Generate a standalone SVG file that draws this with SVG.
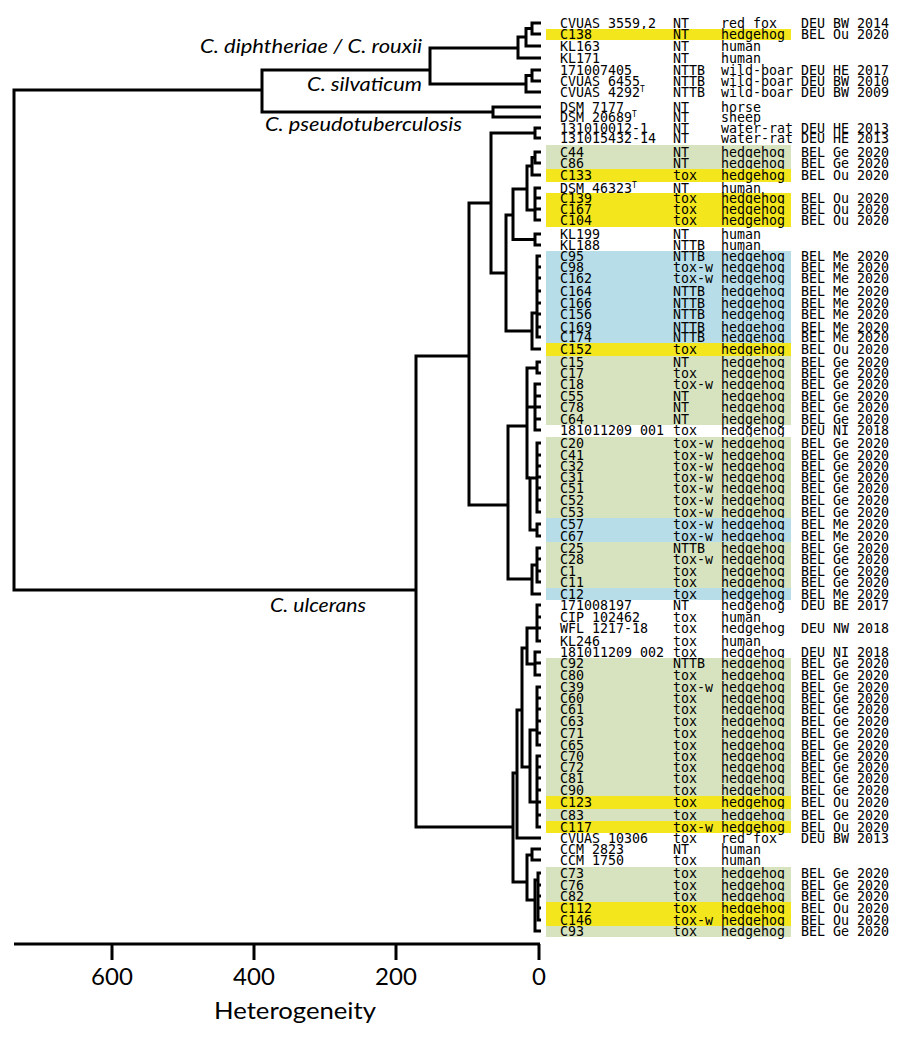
<svg xmlns="http://www.w3.org/2000/svg" width="900" height="1037" viewBox="0 0 900 1037">
<style>
.t{font-family:"DejaVu Sans Mono","Liberation Mono",monospace;font-size:13.3px;fill:#000}
.sup{font-size:8px}
.sp{font-family:Lato,"Open Sans",sans-serif;font-style:italic;font-size:19px;fill:#000}
.ax{font-family:Lato,"Open Sans",sans-serif;font-size:24px;fill:#000;text-anchor:middle}
.ln{fill:none;stroke:#000;stroke-width:3}
.bg{shape-rendering:crispEdges}
.y{fill:#f4e61c}.g{fill:#d7e3bf}.b{fill:#b7dde8}
</style>
<rect width="900" height="1037" fill="#fff"/>
<g id="rows">
<g id="r01"><text class="t" y="28"><tspan x="560">CVUAS 3559,2</tspan><tspan x="673">NT</tspan><tspan x="721">red fox</tspan><tspan x="801">DEU BW 2014</tspan></text></g>
<g id="r02"><rect class="bg y" x="546" y="28.5" width="245" height="11.5"/><text class="t" y="39"><tspan x="560">C138</tspan><tspan x="673">NT</tspan><tspan x="721">hedgehog</tspan><tspan x="801">BEL Ou 2020</tspan></text></g>
<g id="r03"><text class="t" y="51"><tspan x="560">KL163</tspan><tspan x="673">NT</tspan><tspan x="721">human</tspan></text></g>
<g id="r04"><text class="t" y="63"><tspan x="560">KL171</tspan><tspan x="673">NT</tspan><tspan x="721">human</tspan></text></g>
<g id="r05"><text class="t" y="75"><tspan x="560">171007405</tspan><tspan x="673">NTTB</tspan><tspan x="721">wild-boar</tspan><tspan x="801">DEU HE 2017</tspan></text></g>
<g id="r06"><text class="t" y="86"><tspan x="560">CVUAS 6455</tspan><tspan x="673">NTTB</tspan><tspan x="721">wild-boar</tspan><tspan x="801">DEU BW 2010</tspan></text></g>
<g id="r07"><text class="t" y="97"><tspan x="560">CVUAS 4292</tspan><tspan class="sup" dy="-5">T</tspan><tspan x="673" dy="5">NTTB</tspan><tspan x="721">wild-boar</tspan><tspan x="801">DEU BW 2009</tspan></text></g>
<g id="r08"><text class="t" y="112"><tspan x="560">DSM 7177</tspan><tspan x="673">NT</tspan><tspan x="721">horse</tspan></text></g>
<g id="r09"><text class="t" y="122"><tspan x="560">DSM 20689</tspan><tspan class="sup" dy="-5">T</tspan><tspan x="673" dy="5">NT</tspan><tspan x="721">sheep</tspan></text></g>
<g id="r10"><text class="t" y="133"><tspan x="560">131010012-1</tspan><tspan x="673">NT</tspan><tspan x="721">water-rat</tspan><tspan x="801">DEU HE 2013</tspan></text></g>
<g id="r11"><text class="t" y="143"><tspan x="560">131015432-14</tspan><tspan x="673">NT</tspan><tspan x="721">water-rat</tspan><tspan x="801">DEU HE 2013</tspan></text></g>
<g id="r12"><rect class="bg g" x="546" y="145" width="245" height="12.5"/><text class="t" y="157"><tspan x="560">C44</tspan><tspan x="673">NT</tspan><tspan x="721">hedgehog</tspan><tspan x="801">BEL Ge 2020</tspan></text></g>
<g id="r13"><rect class="bg g" x="546" y="157.5" width="245" height="11.5"/><text class="t" y="168"><tspan x="560">C86</tspan><tspan x="673">NT</tspan><tspan x="721">hedgehog</tspan><tspan x="801">BEL Ge 2020</tspan></text></g>
<g id="r14"><rect class="bg y" x="546" y="169" width="245" height="12.5"/><text class="t" y="180"><tspan x="560">C133</tspan><tspan x="673">tox</tspan><tspan x="721">hedgehog</tspan><tspan x="801">BEL Ou 2020</tspan></text></g>
<g id="r15"><text class="t" y="193"><tspan x="560">DSM 46323</tspan><tspan class="sup" dy="-5">T</tspan><tspan x="673" dy="5">NT</tspan><tspan x="721">human</tspan></text></g>
<g id="r16"><rect class="bg y" x="546" y="193" width="245" height="10.5"/><text class="t" y="203"><tspan x="560">C139</tspan><tspan x="673">tox</tspan><tspan x="721">hedgehog</tspan><tspan x="801">BEL Ou 2020</tspan></text></g>
<g id="r17"><rect class="bg y" x="546" y="203.5" width="245" height="11"/><text class="t" y="214"><tspan x="560">C167</tspan><tspan x="673">tox</tspan><tspan x="721">hedgehog</tspan><tspan x="801">BEL Ou 2020</tspan></text></g>
<g id="r18"><rect class="bg y" x="546" y="214.5" width="245" height="12.5"/><text class="t" y="225"><tspan x="560">C104</tspan><tspan x="673">tox</tspan><tspan x="721">hedgehog</tspan><tspan x="801">BEL Ou 2020</tspan></text></g>
<g id="r19"><text class="t" y="239"><tspan x="560">KL199</tspan><tspan x="673">NT</tspan><tspan x="721">human</tspan></text></g>
<g id="r20"><text class="t" y="250"><tspan x="560">KL188</tspan><tspan x="673">NTTB</tspan><tspan x="721">human</tspan></text></g>
<g id="r21"><rect class="bg b" x="546" y="250.5" width="245" height="11"/><text class="t" y="261"><tspan x="560">C95</tspan><tspan x="673">NTTB</tspan><tspan x="721">hedgehog</tspan><tspan x="801">BEL Me 2020</tspan></text></g>
<g id="r22"><rect class="bg b" x="546" y="261.5" width="245" height="11"/><text class="t" y="272"><tspan x="560">C98</tspan><tspan x="673">tox-w</tspan><tspan x="721">hedgehog</tspan><tspan x="801">BEL Me 2020</tspan></text></g>
<g id="r23"><rect class="bg b" x="546" y="272.5" width="245" height="12"/><text class="t" y="283"><tspan x="560">C162</tspan><tspan x="673">tox-w</tspan><tspan x="721">hedgehog</tspan><tspan x="801">BEL Me 2020</tspan></text></g>
<g id="r24"><rect class="bg b" x="546" y="284.5" width="245" height="12.5"/><text class="t" y="296"><tspan x="560">C164</tspan><tspan x="673">NTTB</tspan><tspan x="721">hedgehog</tspan><tspan x="801">BEL Me 2020</tspan></text></g>
<g id="r25"><rect class="bg b" x="546" y="297" width="245" height="11.5"/><text class="t" y="308"><tspan x="560">C166</tspan><tspan x="673">NTTB</tspan><tspan x="721">hedgehog</tspan><tspan x="801">BEL Me 2020</tspan></text></g>
<g id="r26"><rect class="bg b" x="546" y="308.5" width="245" height="12"/><text class="t" y="319"><tspan x="560">C156</tspan><tspan x="673">NTTB</tspan><tspan x="721">hedgehog</tspan><tspan x="801">BEL Me 2020</tspan></text></g>
<g id="r27"><rect class="bg b" x="546" y="320.5" width="245" height="11.5"/><text class="t" y="332"><tspan x="560">C169</tspan><tspan x="673">NTTB</tspan><tspan x="721">hedgehog</tspan><tspan x="801">BEL Me 2020</tspan></text></g>
<g id="r28"><rect class="bg b" x="546" y="332" width="245" height="11"/><text class="t" y="342"><tspan x="560">C174</tspan><tspan x="673">NTTB</tspan><tspan x="721">hedgehog</tspan><tspan x="801">BEL Me 2020</tspan></text></g>
<g id="r29"><rect class="bg y" x="546" y="343" width="245" height="12.5"/><text class="t" y="354"><tspan x="560">C152</tspan><tspan x="673">tox</tspan><tspan x="721">hedgehog</tspan><tspan x="801">BEL Ou 2020</tspan></text></g>
<g id="r30"><rect class="bg g" x="546" y="355.5" width="245" height="12"/><text class="t" y="367"><tspan x="560">C15</tspan><tspan x="673">NT</tspan><tspan x="721">hedgehog</tspan><tspan x="801">BEL Ge 2020</tspan></text></g>
<g id="r31"><rect class="bg g" x="546" y="367.5" width="245" height="11"/><text class="t" y="378"><tspan x="560">C17</tspan><tspan x="673">tox</tspan><tspan x="721">hedgehog</tspan><tspan x="801">BEL Ge 2020</tspan></text></g>
<g id="r32"><rect class="bg g" x="546" y="378.5" width="245" height="11.5"/><text class="t" y="389"><tspan x="560">C18</tspan><tspan x="673">tox-w</tspan><tspan x="721">hedgehog</tspan><tspan x="801">BEL Ge 2020</tspan></text></g>
<g id="r33"><rect class="bg g" x="546" y="390" width="245" height="11.5"/><text class="t" y="401"><tspan x="560">C55</tspan><tspan x="673">NT</tspan><tspan x="721">hedgehog</tspan><tspan x="801">BEL Ge 2020</tspan></text></g>
<g id="r34"><rect class="bg g" x="546" y="401.5" width="245" height="11.5"/><text class="t" y="412"><tspan x="560">C78</tspan><tspan x="673">NT</tspan><tspan x="721">hedgehog</tspan><tspan x="801">BEL Ge 2020</tspan></text></g>
<g id="r35"><rect class="bg g" x="546" y="413" width="245" height="11.5"/><text class="t" y="424"><tspan x="560">C64</tspan><tspan x="673">NT</tspan><tspan x="721">hedgehog</tspan><tspan x="801">BEL Ge 2020</tspan></text></g>
<g id="r36"><text class="t" y="435"><tspan x="560">181011209 001</tspan><tspan x="673">tox</tspan><tspan x="721">hedgehog</tspan><tspan x="801">DEU NI 2018</tspan></text></g>
<g id="r37"><rect class="bg g" x="546" y="436.5" width="245" height="12.5"/><text class="t" y="448"><tspan x="560">C20</tspan><tspan x="673">tox-w</tspan><tspan x="721">hedgehog</tspan><tspan x="801">BEL Ge 2020</tspan></text></g>
<g id="r38"><rect class="bg g" x="546" y="449" width="245" height="11.5"/><text class="t" y="460"><tspan x="560">C41</tspan><tspan x="673">tox-w</tspan><tspan x="721">hedgehog</tspan><tspan x="801">BEL Ge 2020</tspan></text></g>
<g id="r39"><rect class="bg g" x="546" y="460.5" width="245" height="11"/><text class="t" y="471"><tspan x="560">C32</tspan><tspan x="673">tox-w</tspan><tspan x="721">hedgehog</tspan><tspan x="801">BEL Ge 2020</tspan></text></g>
<g id="r40"><rect class="bg g" x="546" y="471.5" width="245" height="11"/><text class="t" y="482"><tspan x="560">C31</tspan><tspan x="673">tox-w</tspan><tspan x="721">hedgehog</tspan><tspan x="801">BEL Ge 2020</tspan></text></g>
<g id="r41"><rect class="bg g" x="546" y="482.5" width="245" height="11.5"/><text class="t" y="493"><tspan x="560">C51</tspan><tspan x="673">tox-w</tspan><tspan x="721">hedgehog</tspan><tspan x="801">BEL Ge 2020</tspan></text></g>
<g id="r42"><rect class="bg g" x="546" y="494" width="245" height="12"/><text class="t" y="505"><tspan x="560">C52</tspan><tspan x="673">tox-w</tspan><tspan x="721">hedgehog</tspan><tspan x="801">BEL Ge 2020</tspan></text></g>
<g id="r43"><rect class="bg g" x="546" y="506" width="245" height="12"/><text class="t" y="517"><tspan x="560">C53</tspan><tspan x="673">tox-w</tspan><tspan x="721">hedgehog</tspan><tspan x="801">BEL Ge 2020</tspan></text></g>
<g id="r44"><rect class="bg b" x="546" y="518" width="245" height="12"/><text class="t" y="529"><tspan x="560">C57</tspan><tspan x="673">tox-w</tspan><tspan x="721">hedgehog</tspan><tspan x="801">BEL Me 2020</tspan></text></g>
<g id="r45"><rect class="bg b" x="546" y="530" width="245" height="12"/><text class="t" y="541"><tspan x="560">C67</tspan><tspan x="673">tox-w</tspan><tspan x="721">hedgehog</tspan><tspan x="801">BEL Me 2020</tspan></text></g>
<g id="r46"><rect class="bg g" x="546" y="542" width="245" height="11.5"/><text class="t" y="553"><tspan x="560">C25</tspan><tspan x="673">NTTB</tspan><tspan x="721">hedgehog</tspan><tspan x="801">BEL Ge 2020</tspan></text></g>
<g id="r47"><rect class="bg g" x="546" y="553.5" width="245" height="11.5"/><text class="t" y="564"><tspan x="560">C28</tspan><tspan x="673">tox-w</tspan><tspan x="721">hedgehog</tspan><tspan x="801">BEL Ge 2020</tspan></text></g>
<g id="r48"><rect class="bg g" x="546" y="565" width="245" height="11.5"/><text class="t" y="576"><tspan x="560">C1</tspan><tspan x="673">tox</tspan><tspan x="721">hedgehog</tspan><tspan x="801">BEL Ge 2020</tspan></text></g>
<g id="r49"><rect class="bg g" x="546" y="576.5" width="245" height="11.5"/><text class="t" y="587"><tspan x="560">C11</tspan><tspan x="673">tox</tspan><tspan x="721">hedgehog</tspan><tspan x="801">BEL Ge 2020</tspan></text></g>
<g id="r50"><rect class="bg b" x="546" y="588" width="245" height="11.5"/><text class="t" y="599"><tspan x="560">C12</tspan><tspan x="673">tox</tspan><tspan x="721">hedgehog</tspan><tspan x="801">BEL Me 2020</tspan></text></g>
<g id="r51"><text class="t" y="610"><tspan x="560">171008197</tspan><tspan x="673">NT</tspan><tspan x="721">hedgehog</tspan><tspan x="801">DEU BE 2017</tspan></text></g>
<g id="r52"><text class="t" y="622"><tspan x="560">CIP 102462</tspan><tspan x="673">tox</tspan><tspan x="721">human</tspan></text></g>
<g id="r53"><text class="t" y="633"><tspan x="560">WFL 1217-18</tspan><tspan x="673">tox</tspan><tspan x="721">hedgehog</tspan><tspan x="801">DEU NW 2018</tspan></text></g>
<g id="r54"><text class="t" y="646"><tspan x="560">KL246</tspan><tspan x="673">tox</tspan><tspan x="721">human</tspan></text></g>
<g id="r55"><text class="t" y="657"><tspan x="560">181011209 002</tspan><tspan x="673">tox</tspan><tspan x="721">hedgehog</tspan><tspan x="801">DEU NI 2018</tspan></text></g>
<g id="r56"><rect class="bg g" x="546" y="657.5" width="245" height="11.5"/><text class="t" y="668"><tspan x="560">C92</tspan><tspan x="673">NTTB</tspan><tspan x="721">hedgehog</tspan><tspan x="801">BEL Ge 2020</tspan></text></g>
<g id="r57"><rect class="bg g" x="546" y="669" width="245" height="12"/><text class="t" y="680"><tspan x="560">C80</tspan><tspan x="673">tox</tspan><tspan x="721">hedgehog</tspan><tspan x="801">BEL Ge 2020</tspan></text></g>
<g id="r58"><rect class="bg g" x="546" y="681" width="245" height="11.5"/><text class="t" y="692"><tspan x="560">C39</tspan><tspan x="673">tox-w</tspan><tspan x="721">hedgehog</tspan><tspan x="801">BEL Ge 2020</tspan></text></g>
<g id="r59"><rect class="bg g" x="546" y="692.5" width="245" height="11"/><text class="t" y="703"><tspan x="560">C60</tspan><tspan x="673">tox</tspan><tspan x="721">hedgehog</tspan><tspan x="801">BEL Ge 2020</tspan></text></g>
<g id="r60"><rect class="bg g" x="546" y="703.5" width="245" height="11.5"/><text class="t" y="714"><tspan x="560">C61</tspan><tspan x="673">tox</tspan><tspan x="721">hedgehog</tspan><tspan x="801">BEL Ge 2020</tspan></text></g>
<g id="r61"><rect class="bg g" x="546" y="715" width="245" height="12"/><text class="t" y="726"><tspan x="560">C63</tspan><tspan x="673">tox</tspan><tspan x="721">hedgehog</tspan><tspan x="801">BEL Ge 2020</tspan></text></g>
<g id="r62"><rect class="bg g" x="546" y="727" width="245" height="12"/><text class="t" y="738"><tspan x="560">C71</tspan><tspan x="673">tox</tspan><tspan x="721">hedgehog</tspan><tspan x="801">BEL Ge 2020</tspan></text></g>
<g id="r63"><rect class="bg g" x="546" y="739" width="245" height="11.5"/><text class="t" y="750"><tspan x="560">C65</tspan><tspan x="673">tox</tspan><tspan x="721">hedgehog</tspan><tspan x="801">BEL Ge 2020</tspan></text></g>
<g id="r64"><rect class="bg g" x="546" y="750.5" width="245" height="11"/><text class="t" y="761"><tspan x="560">C70</tspan><tspan x="673">tox</tspan><tspan x="721">hedgehog</tspan><tspan x="801">BEL Ge 2020</tspan></text></g>
<g id="r65"><rect class="bg g" x="546" y="761.5" width="245" height="11"/><text class="t" y="772"><tspan x="560">C72</tspan><tspan x="673">tox</tspan><tspan x="721">hedgehog</tspan><tspan x="801">BEL Ge 2020</tspan></text></g>
<g id="r66"><rect class="bg g" x="546" y="772.5" width="245" height="11.5"/><text class="t" y="783"><tspan x="560">C81</tspan><tspan x="673">tox</tspan><tspan x="721">hedgehog</tspan><tspan x="801">BEL Ge 2020</tspan></text></g>
<g id="r67"><rect class="bg g" x="546" y="784" width="245" height="12"/><text class="t" y="795"><tspan x="560">C90</tspan><tspan x="673">tox</tspan><tspan x="721">hedgehog</tspan><tspan x="801">BEL Ge 2020</tspan></text></g>
<g id="r68"><rect class="bg y" x="546" y="796" width="245" height="12.5"/><text class="t" y="807"><tspan x="560">C123</tspan><tspan x="673">tox</tspan><tspan x="721">hedgehog</tspan><tspan x="801">BEL Ou 2020</tspan></text></g>
<g id="r69"><rect class="bg g" x="546" y="808.5" width="245" height="12.5"/><text class="t" y="820"><tspan x="560">C83</tspan><tspan x="673">tox</tspan><tspan x="721">hedgehog</tspan><tspan x="801">BEL Ge 2020</tspan></text></g>
<g id="r70"><rect class="bg y" x="546" y="821" width="245" height="11.5"/><text class="t" y="832"><tspan x="560">C117</tspan><tspan x="673">tox-w</tspan><tspan x="721">hedgehog</tspan><tspan x="801">BEL Ou 2020</tspan></text></g>
<g id="r71"><text class="t" y="843"><tspan x="560">CVUAS 10306</tspan><tspan x="673">tox</tspan><tspan x="721">red fox</tspan><tspan x="801">DEU BW 2013</tspan></text></g>
<g id="r72"><text class="t" y="854"><tspan x="560">CCM 2823</tspan><tspan x="673">NT</tspan><tspan x="721">human</tspan></text></g>
<g id="r73"><text class="t" y="865"><tspan x="560">CCM 1750</tspan><tspan x="673">tox</tspan><tspan x="721">human</tspan></text></g>
<g id="r74"><rect class="bg g" x="546" y="866.5" width="245" height="12.5"/><text class="t" y="878"><tspan x="560">C73</tspan><tspan x="673">tox</tspan><tspan x="721">hedgehog</tspan><tspan x="801">BEL Ge 2020</tspan></text></g>
<g id="r75"><rect class="bg g" x="546" y="879" width="245" height="11.5"/><text class="t" y="890"><tspan x="560">C76</tspan><tspan x="673">tox</tspan><tspan x="721">hedgehog</tspan><tspan x="801">BEL Ge 2020</tspan></text></g>
<g id="r76"><rect class="bg g" x="546" y="890.5" width="245" height="11.5"/><text class="t" y="901"><tspan x="560">C82</tspan><tspan x="673">tox</tspan><tspan x="721">hedgehog</tspan><tspan x="801">BEL Ge 2020</tspan></text></g>
<g id="r77"><rect class="bg y" x="546" y="902" width="245" height="12"/><text class="t" y="913"><tspan x="560">C112</tspan><tspan x="673">tox</tspan><tspan x="721">hedgehog</tspan><tspan x="801">BEL Ou 2020</tspan></text></g>
<g id="r78"><rect class="bg y" x="546" y="914" width="245" height="11.5"/><text class="t" y="925"><tspan x="560">C146</tspan><tspan x="673">tox-w</tspan><tspan x="721">hedgehog</tspan><tspan x="801">BEL Ou 2020</tspan></text></g>
<g id="r79"><rect class="bg g" x="546" y="925.5" width="245" height="11.5"/><text class="t" y="936"><tspan x="560">C93</tspan><tspan x="673">tox</tspan><tspan x="721">hedgehog</tspan><tspan x="801">BEL Ge 2020</tspan></text></g>
</g>
<g id="connectors" class="ln">
<path d="M262 90H14V590H416"/>
<path d="M430 70H262V112H493"/>
<path d="M518 48H430V84H526"/>
<path d="M526 37H518V58H541"/>
<path d="M532 28.5H526V46H541"/>
<path d="M541 23H532V34H541"/>
<path d="M532 75.5H526V92H541"/>
<path d="M541 70H532V81H541"/>
<path d="M541 107H493V117H541"/>
<path d="M469 356H416V827H513"/>
<path d="M491 203H469V505H508"/>
<path d="M535 133H491V273H506"/>
<path d="M541 128H535V138H541"/>
<path d="M513 215H506V331H532"/>
<path d="M527 189H513V239.5H535"/>
<path d="M541 234H535V245H541"/>
<path d="M532 166H527V210H535"/>
<path d="M535 157.5H532V175H541"/>
<path d="M541 152H535V163H541"/>
<path d="M541 188H535V220H541M535 198H541M535 209H541"/>
<path d="M537 313H532V349H541"/>
<path d="M541 256H537V337H541M537 267H541M537 278H541M537 291H541M537 303H541M537 314H541M537 327H541"/>
<path d="M527 426H508V579H532"/>
<path d="M537 368H527V478H530M527 407H535"/>
<path d="M541 362H537V373H541"/>
<path d="M541 384H535V430H541M535 396H541M535 407H541M535 419H541"/>
<path d="M537 478H530V530H537"/>
<path d="M541 443H537V512H541M537 455H541M537 466H541M537 477H541M537 488H541M537 500H541"/>
<path d="M541 524H537V536H541"/>
<path d="M537 565H532V594H541"/>
<path d="M541 548H537V582H541M537 559H541M537 571H541"/>
<path d="M517 773H513V882H527"/>
<path d="M522 710H517V838H541"/>
<path d="M527 648H522V767H530"/>
<path d="M537 628H527V664H535"/>
<path d="M541 605H537V641H541M537 617H541M537 628H541"/>
<path d="M541 652H535V675H541M535 663H541"/>
<path d="M537 730H530V802H537"/>
<path d="M541 687H537V745H541M537 698H541M537 709H541M537 721H541M537 733H541"/>
<path d="M541 756H537V827H541M537 767H541M537 778H541M537 790H541M537 802H541M537 815H541"/>
<path d="M532 855H527V900H535"/>
<path d="M541 849H532V860H541"/>
<path d="M538 880H535V931H541"/>
<path d="M541 873H538V920H541M538 885H541M538 896H541M538 908H541"/>
</g>
<g id="clade-labels">
<text class="sp" x="200" y="53" textLength="222" lengthAdjust="spacingAndGlyphs">C. diphtheriae / C. rouxii</text>
<text class="sp" x="307" y="91" textLength="115" lengthAdjust="spacingAndGlyphs">C. silvaticum</text>
<text class="sp" x="265" y="131" textLength="197" lengthAdjust="spacingAndGlyphs">C. pseudotuberculosis</text>
<text class="sp" x="270" y="612" textLength="96" lengthAdjust="spacingAndGlyphs">C. ulcerans</text>
</g>
<g id="axis">
<path class="ln" d="M14 944H540M112 944V960M254 944V960M396 944V960M539 944V960"/>
<text class="ax" x="112" y="985">600</text>
<text class="ax" x="254" y="985">400</text>
<text class="ax" x="396" y="985">200</text>
<text class="ax" x="539" y="985">0</text>
<text class="ax" x="295" y="1019" textLength="162" lengthAdjust="spacingAndGlyphs">Heterogeneity</text>
</g>
</svg>
